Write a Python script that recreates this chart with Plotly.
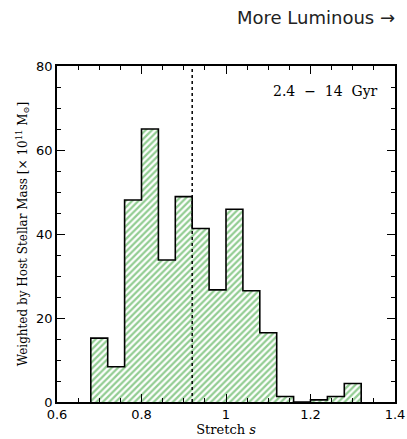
import plotly.graph_objects as go

bin_left = [0.68, 0.72, 0.76, 0.80, 0.84, 0.88, 0.92, 0.96, 1.00, 1.04, 1.08, 1.12, 1.16, 1.20, 1.24, 1.28]
bin_width = 0.04
weights = [15.2, 8.4, 48.1, 65.0, 33.8, 48.9, 41.3, 26.7, 45.9, 26.5, 16.5, 1.3, 0.0, 0.5, 1.3, 4.4]
median_s = 0.92
x_ticks = [0.6, 0.8, 1.0, 1.2, 1.4]
x_tick_text = ["0.6", "0.8", "1", "1.2", "1.4"]
y_ticks = [0, 20, 40, 60, 80]

centers = [b + bin_width / 2 for b in bin_left]
step_x = [bin_left[0]] + bin_left + [bin_left[-1] + bin_width]
step_y = [0] + weights + [0]

fig = go.Figure()
fig.add_trace(go.Bar(
    x=centers, y=weights, width=bin_width,
    marker=dict(color="white", line=dict(width=0),
                pattern=dict(shape="/", fgcolor="#259a25", bgcolor="white", size=4.5, solidity=0.5)),
    showlegend=False, hoverinfo="skip"))
fig.add_trace(go.Scatter(
    x=step_x, y=step_y, mode="lines", line=dict(color="black", width=1.6, shape="hv"),
    showlegend=False, hoverinfo="skip"))

fig.add_shape(type="line", x0=median_s, x1=median_s, y0=0, y1=80, xref="x", yref="y",
              line=dict(color="black", width=1.5, dash="dot"))

fig.add_annotation(text="2.4  \u2212  14  Gyr", x=0.955, y=0.955, xref="paper", yref="paper",
                   xanchor="right", yanchor="top", showarrow=False,
                   font=dict(family="DejaVu Serif", size=14, color="black"))
fig.add_annotation(text="More Luminous \u2192", x=1.005, y=1.145, xref="paper", yref="paper",
                   xanchor="right", yanchor="middle",
                   showarrow=False, font=dict(family="DejaVu Sans", size=18, color="#222"))

axis_common = dict(showgrid=False, zeroline=False, showline=True, linecolor="black", linewidth=1.5,
                   mirror="ticks", ticks="inside", ticklen=8, tickwidth=1.2, tickcolor="black",
                   automargin=False,
                   tickfont=dict(family="DejaVu Sans", size=13, color="black"))
fig.update_xaxes(range=[0.6, 1.4], tickvals=x_ticks, ticktext=x_tick_text,
                 minor=dict(dtick=0.05, ticks="inside", ticklen=4, tickcolor="black", tickwidth=1),
                 title=dict(text="Stretch <i>s</i>", font=dict(family="DejaVu Serif", size=13, color="black"),
                            standoff=2),
                 **axis_common)
fig.update_yaxes(range=[0, 80], tickvals=y_ticks,
                 minor=dict(dtick=5, ticks="inside", ticklen=4, tickcolor="black", tickwidth=1),
                 title=dict(text="Weighted by Host Stellar Mass [\u00d7 10<sup>11</sup> M<sub>\u2299</sub>]",
                            font=dict(family="DejaVu Serif", size=12, color="black"), standoff=6),
                 **axis_common)

fig.update_layout(width=407, height=439, margin=dict(l=57, r=12, t=66, b=37),
                  paper_bgcolor="white", plot_bgcolor="white", bargap=0)
fig.write_html("out.html")
